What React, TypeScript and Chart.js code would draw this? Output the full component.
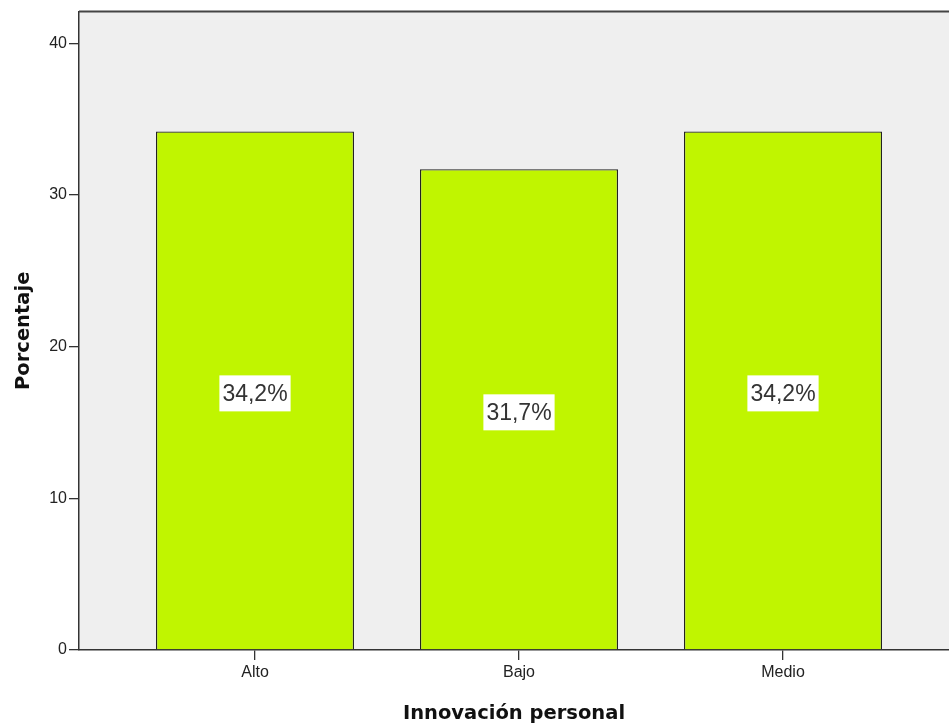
import React, { useEffect, useRef } from "react";
import { Chart, registerables } from "chart.js";

Chart.register(...registerables);

const categories = ["Alto", "Bajo", "Medio"];
const values = [34.2, 31.7, 34.2];
const valueLabels = ["34,2%", "31,7%", "34,2%"];
const yTicks = [0, 10, 20, 30, 40];
const xTitle = "Innovación personal";
const yTitle = "Porcentaje";

const bgPlugin = {
  id: "bgPlugin",
  beforeDraw(chart: any) {
    const { ctx, chartArea } = chart;
    ctx.save();
    ctx.fillStyle = "#ffffff";
    ctx.fillRect(0, 0, chart.width, chart.height);
    ctx.fillStyle = "#efefef";
    ctx.fillRect(chartArea.left, chartArea.top, chartArea.right - chartArea.left, chartArea.bottom - chartArea.top);
    ctx.restore();
  },
  afterDraw(chart: any) {
    const { ctx, chartArea } = chart;
    ctx.save();
    ctx.strokeStyle = "#444";
    ctx.lineWidth = 2;
    ctx.beginPath();
    ctx.moveTo(chartArea.left, chartArea.top);
    ctx.lineTo(chartArea.right, chartArea.top);
    ctx.stroke();

    ctx.fillStyle = "#111";
    ctx.font = "bold 19.5px 'DejaVu Sans'";
    ctx.textAlign = "center";
    ctx.textBaseline = "alphabetic";
    ctx.fillText(xTitle, (chartArea.left + chartArea.right) / 2, 719);

    ctx.translate(29, (chartArea.top + chartArea.bottom) / 2);
    ctx.rotate(-Math.PI / 2);
    ctx.fillText(yTitle, 0, 0);
    ctx.restore();
  },
};

const labelPlugin = {
  id: "labelPlugin",
  afterDatasetsDraw(chart: any) {
    const { ctx } = chart;
    const meta = chart.getDatasetMeta(0);
    ctx.save();
    ctx.font = "23px 'Liberation Sans'";
    ctx.textAlign = "center";
    ctx.textBaseline = "middle";
    meta.data.forEach((bar: any, i: number) => {
      const text = valueLabels[i];
      const cx = bar.x;
      const cy = (bar.y + bar.base) / 2 + 3;
      const tw = ctx.measureText(text).width;
      const w = tw + 6;
      const h = 36;
      ctx.fillStyle = "#ffffff";
      ctx.fillRect(cx - w / 2, cy - h / 2, w, h);
      ctx.fillStyle = "#333";
      ctx.fillText(text, cx, cy + 1);
    });
    ctx.restore();
  },
};

export default function App() {
  const ref = useRef<HTMLCanvasElement>(null);
  useEffect(() => {
    if (!ref.current) return;
    const tickFont = { family: "'Liberation Sans'", size: 16 };
    const chart = new Chart(ref.current, {
      type: "bar",
      data: {
        datasets: [
          {
            data: values.map((v, i) => ({ x: i, y: v })),
            backgroundColor: "rgb(192,245,0)",
            borderColor: "#222",
            borderWidth: 1.3,
            categoryPercentage: 1,
            barPercentage: 0.75,
          } as any,
        ],
      },
      options: {
        responsive: false,
        animation: false,
        layout: { padding: { top: 11, left: 0, right: 0, bottom: 0 } },
        plugins: { legend: { display: false }, tooltip: { enabled: false }, title: { display: false } },
        scales: {
          x: {
            type: "linear",
            min: -176 / 264,
            max: -176 / 264 + 870 / 264,
            offset: false,
            grid: { offset: false, drawOnChartArea: false, drawTicks: true, tickLength: 10, color: "#333", lineWidth: 1.3 },
            border: { display: true, color: "#333", width: 1.5 },
            ticks: {
              font: tickFont,
              color: "#222",
              padding: 3,
              autoSkip: false,
              maxRotation: 0,
              callback: (v: any) => categories[v as number] ?? "",
            },
            afterBuildTicks: (s: any) => {
              s.ticks = categories.map((_, i) => ({ value: i }));
            },
            afterFit: (s: any) => {
              s.height = 73;
            },
          },
          y: {
            type: "linear",
            min: 0,
            max: 42.1,
            grid: { drawOnChartArea: false, drawTicks: true, tickLength: 10, color: "#333", lineWidth: 1.3 },
            border: { display: true, color: "#333", width: 1.5 },
            ticks: { font: tickFont, color: "#222", padding: 2 },
            afterBuildTicks: (s: any) => {
              s.ticks = yTicks.map((v) => ({ value: v }));
            },
            afterFit: (s: any) => {
              s.width = 79;
            },
          },
        },
      } as any,
      plugins: [bgPlugin, labelPlugin],
    });
    return () => chart.destroy();
  }, []);
  return (
    <div style={{ position: "absolute", left: 0, top: 0, width: 949, height: 723 }}>
      <canvas ref={ref} width={949} height={723} style={{ display: "block" }} />
    </div>
  );
}
